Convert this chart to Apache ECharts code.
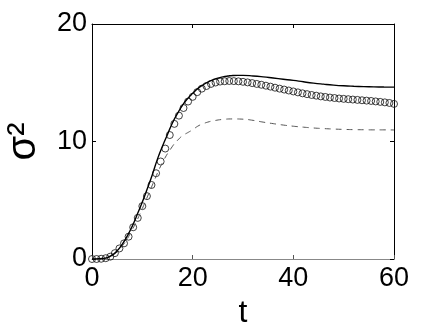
<!DOCTYPE html>
<html>
<head>
<meta charset="utf-8">
<script src="https://cdn.jsdelivr.net/npm/echarts@6/dist/echarts.min.js"></script>
<style>
    html, body { margin: 0; padding: 0; background: #fff; }
    #chart { width: 436px; height: 327px; }
</style>
</head>
<body>
<div id="chart"></div>
<script>
    // solid curve
    let tSolid = [0, 1, 2, 3, 4, 5, 6, 7, 8, 9, 10, 11, 12, 13, 14, 15, 16, 17, 18, 19, 20,
        21, 22, 23, 24, 25, 26, 27, 28, 29, 30, 32, 34, 36, 38, 40, 42, 44, 46, 48, 50, 52, 54, 56, 58, 60]
    let vSolid = [0, 0.01, 0.04, 0.12, 0.33, 0.7, 1.25, 1.95, 2.8, 3.8, 4.85, 6.0, 7.2, 8.5, 9.6, 10.6, 11.6, 12.4, 13.1, 13.65, 14.1,
        14.5, 14.8, 15.05, 15.25, 15.4, 15.5, 15.57, 15.62, 15.63, 15.63, 15.58, 15.5, 15.4, 15.3, 15.2, 15.08, 14.97, 14.88, 14.8, 14.74, 14.7, 14.67, 14.65, 14.64, 14.63]

    // circles
    let tCircle = [0, 0.91, 1.82, 2.73, 3.64, 4.55, 5.45, 6.36, 7.27, 8.18, 9.09, 10.0, 10.91, 11.82, 12.73, 13.64,
        14.55, 15.45, 16.36, 17.27, 18.18, 19.09, 20.0, 20.91, 21.82, 22.73, 23.64, 24.55, 25.45, 26.36, 27.27,
        28.18, 29.09, 30.0, 30.91, 31.82, 32.73, 33.64, 34.55, 35.45, 36.36, 37.27, 38.18, 39.09, 40.0, 40.91,
        41.82, 42.73, 43.64, 44.55, 45.45, 46.36, 47.27, 48.18, 49.09, 50.0, 50.91, 51.82, 52.73, 53.64, 54.55,
        55.45, 56.36, 57.27, 58.18, 59.09, 60.0]
    let vCircle = [0, 0, 0.02, 0.07, 0.2, 0.5, 0.9, 1.33, 1.9, 2.7, 3.5, 4.5, 5.35, 6.3, 7.3, 8.3,
        9.4, 10.55, 11.5, 12.2, 12.85, 13.4, 13.8, 14.2, 14.5, 14.72, 14.9, 15.02, 15.1, 15.13, 15.15,
        15.14, 15.12, 15.08, 15.03, 14.97, 14.9, 14.83, 14.75, 14.67, 14.58, 14.5, 14.42, 14.34, 14.26, 14.18,
        14.1, 14.03, 13.96, 13.9, 13.84, 13.79, 13.74, 13.7, 13.66, 13.63, 13.6, 13.57, 13.54, 13.51, 13.48,
        13.45, 13.41, 13.37, 13.33, 13.28, 13.2]

    // dashed curve
    let tDashed = [0, 2, 4, 6, 8, 10, 12, 14, 16, 17, 18, 19, 20, 21, 22, 23, 24, 26, 28, 30,
        32, 34, 36, 38, 40, 42, 44, 46, 48, 50, 52, 54, 56, 58, 60]
    let vDashed = [0, 0.03, 0.3, 1.1, 2.5, 4.3, 6.3, 8.2, 9.6, 10.1, 10.5, 10.75, 11.0, 11.3, 11.5, 11.65, 11.75, 11.88, 11.92, 11.9,
        11.8, 11.65, 11.52, 11.4, 11.3, 11.22, 11.15, 11.1, 11.06, 11.03, 11.01, 11.0, 10.99, 10.99, 10.98]

    let xTicks = [0, 20, 40, 60]
    let yTicks = [0, 10, 20]

    const pairs = (xs, ys) => xs.map((x, i) => [x, ys[i]])
    const font = 'Liberation Sans'

    let chart = echarts.init(document.getElementById('chart'))
    const boxAxis = {
        type: 'value',
        axisLine: { show: true, onZero: false, lineStyle: { color: '#000', width: 1 } },
        axisTick: { show: true, inside: true, length: 4, lineStyle: { color: '#000' } },
        axisLabel: { show: false },
        splitLine: { show: false }
    }
    const options = {
        animation: false,
        grid: { left: 92, right: 42, top: 24, bottom: 68, containLabel: false, outerBoundsMode: 'none' },
        xAxis: [
            {
                type: 'value',
                min: xTicks[0],
                max: xTicks[xTicks.length - 1],
                interval: 20,
                name: 't',
                nameLocation: 'middle',
                nameGap: 33,
                nameTextStyle: { fontFamily: font, fontSize: 32, color: '#000' },
                axisLine: { show: true, onZero: false, lineStyle: { color: '#888', width: 1 } },
                axisTick: { show: true, inside: true, length: 4, lineStyle: { color: '#555' } },
                axisLabel: { fontFamily: font, fontSize: 27, color: '#000', margin: 6 },
                splitLine: { show: false }
            },
            Object.assign({}, boxAxis, { position: 'top', min: 0, max: 60, interval: 20 })
        ],
        yAxis: [
            {
                type: 'value',
                min: yTicks[0],
                max: yTicks[yTicks.length - 1],
                interval: 10,
                name: 'σ²',
                nameLocation: 'middle',
                nameGap: 48,
                nameRotate: 90,
                nameTextStyle: { fontFamily: font, fontSize: 40, color: '#000' },
                axisLine: { show: true, onZero: false, lineStyle: { color: '#000', width: 1 } },
                axisTick: { show: true, inside: true, length: 4, lineStyle: { color: '#000' } },
                axisLabel: { fontFamily: font, fontSize: 27, color: '#000', margin: 5 },
                splitLine: { show: false }
            },
            Object.assign({}, boxAxis, { position: 'right', min: 0, max: 20, interval: 10 })
        ],
        series: [
            {
                type: 'line',
                data: pairs(tDashed, vDashed),
                smooth: true,
                showSymbol: false,
                lineStyle: { color: '#555', width: 1, type: [6, 5] }
            },
            {
                type: 'scatter',
                data: pairs(tCircle, vCircle),
                symbol: 'circle',
                symbolSize: 7,
                itemStyle: { color: 'rgba(0,0,0,0)', borderColor: '#111', borderWidth: 1 }
            },
            {
                type: 'line',
                data: pairs(tSolid, vSolid),
                smooth: true,
                showSymbol: false,
                lineStyle: { color: '#000', width: 1.4 }
            }
        ]
    }
    chart.setOption(options)
</script>
</body>
</html>
